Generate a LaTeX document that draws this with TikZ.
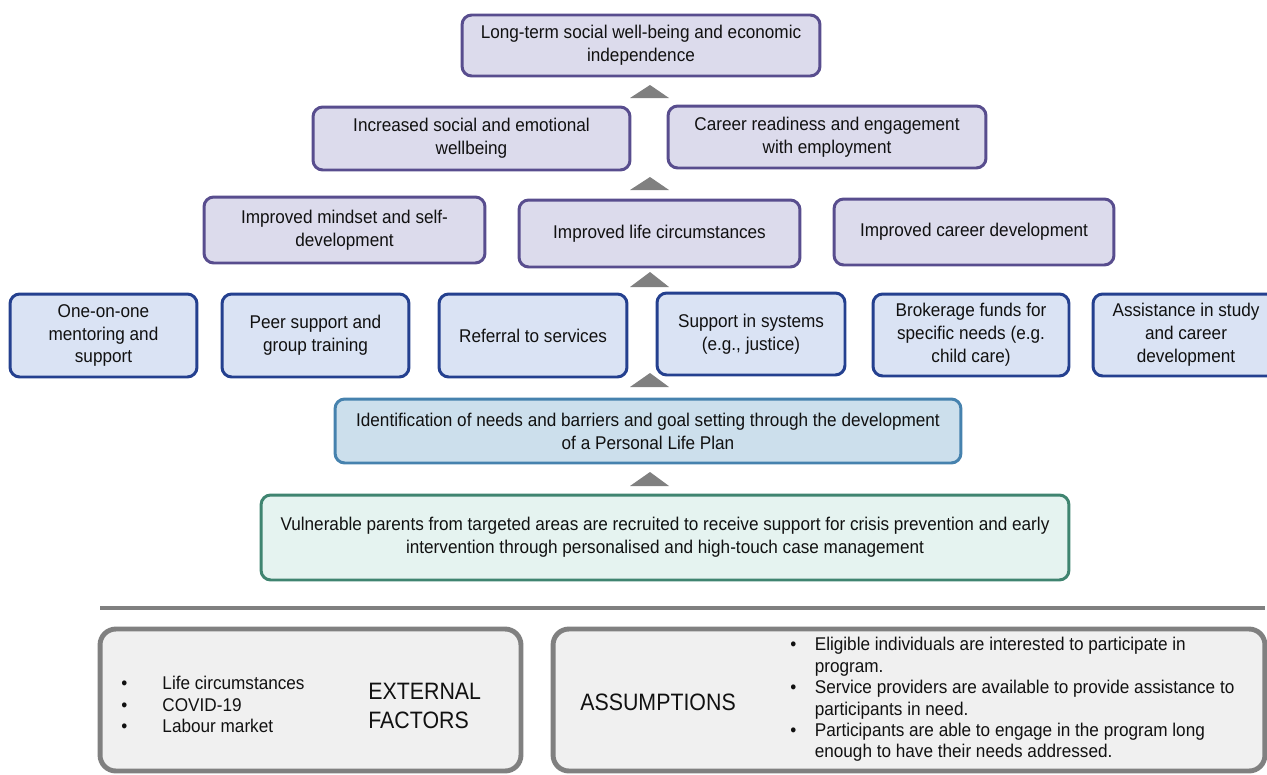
\documentclass[tikz,border=0pt]{standalone}
\usepackage{fontspec}
\setmainfont{Liberation Sans}[FakeStretch=0.93]
\newfontfamily\headfont{Liberation Sans}[FakeStretch=0.9]

\definecolor{purplefill}{HTML}{DCDBEC}
\definecolor{purpleline}{HTML}{584D8E}
\definecolor{bluefill}{HTML}{DAE3F4}
\definecolor{blueline}{HTML}{24408F}
\definecolor{identfill}{HTML}{CCDFEC}
\definecolor{identline}{HTML}{4682AE}
\definecolor{greenfill}{HTML}{E5F3F0}
\definecolor{greenline}{HTML}{3F8470}
\definecolor{greyfill}{HTML}{F0F0F0}
\definecolor{greyline}{HTML}{808080}
\definecolor{textdark}{HTML}{111111}

\tikzset{
  box/.style={rounded corners=5.5pt, line width=1.7pt, align=center, inner sep=0pt,
    text=textdark, font=\fontsize{10.5}{13}\selectfont},
  outcome/.style={box, draw=purpleline, fill=purplefill},
  activity/.style={box, draw=blueline, fill=bluefill},
  plan/.style={box, draw=identline, fill=identfill},
  intake/.style={box, draw=greenline, fill=greenfill},
  context/.style={box, draw=greyline, fill=greyfill, line width=2.8pt, rounded corners=9pt},
  uparrow/.style={fill=greyline},
  plain/.style={inner sep=0pt, text=textdark, align=left}
}

\begin{document}
\begin{tikzpicture}[x=0.02cm, y=-0.02cm]
      \useasboundingbox (0,0) rectangle (1267,774);

      % outcomes
      \node[outcome, minimum width=7.16cm, minimum height=1.22cm] (goal) at (641,45.5)
        {Long-term social well-being and economic\\independence};
      \node[outcome, minimum width=6.34cm, minimum height=1.26cm] (wellbeing) at (471.5,138.5)
        {Increased social and emotional\\wellbeing};
      \node[outcome, minimum width=6.36cm, minimum height=1.24cm] (career) at (827,137)
        {Career readiness and engagement\\with employment};
      \node[outcome, minimum width=5.62cm, minimum height=1.32cm] (mindset) at (344.5,230)
        {Improved mindset and self-\\development};
      \node[outcome, minimum width=5.62cm, minimum height=1.34cm] (life) at (659.5,233.5)
        {Improved life circumstances};
      \node[outcome, minimum width=5.6cm, minimum height=1.32cm] (careerdev) at (974,232)
        {Improved career development};

      % activities
      \node[activity, minimum width=3.74cm, minimum height=1.66cm] (mentor) at (103.5,335.5)
        {One-on-one\\mentoring and\\support};
      \node[activity, minimum width=3.74cm, minimum height=1.66cm] (peer) at (315.5,335.5)
        {Peer support and\\group training};
      \node[activity, minimum width=3.76cm, minimum height=1.66cm] (referral) at (533,335.5)
        {Referral to services};
      \node[activity, minimum width=3.76cm, minimum height=1.64cm] (systems) at (751,334)
        {Support in systems\\(e.g., justice)};
      \node[activity, minimum width=3.92cm, minimum height=1.64cm] (brokerage) at (971,335)
        {Brokerage funds for\\specific needs (e.g.\\child care)};
      \node[activity, minimum width=3.72cm, minimum height=1.64cm] (study) at (1186,335)
        {Assistance in study\\and career\\development};

      % plan and intake
      \node[plan, minimum width=12.52cm, minimum height=1.28cm] (lifeplan) at (648,431)
        {Identification of needs and barriers and goal setting through the development\\of a Personal Life Plan};
      \node[intake, minimum width=16.16cm, minimum height=1.7cm] (parents) at (665,537.5)
        {Vulnerable parents from targeted areas are recruited to receive support for crisis prevention and early\\intervention through personalised and high-touch case management};

      % arrows between levels
      \foreach \y/\h in {98/13, 190/13, 287/15, 387/14, 486/14}
        \fill[uparrow] (630,\y) -- (650,\y-\h) -- (669,\y) -- cycle;

      % separator
      \coordinate (sepL) at (100,608);
      \coordinate (sepR) at (1265,608);
      \draw[greyline, line width=2.8pt] (sepL) -- (sepR);

      % external factors and assumptions
      \node[context, minimum width=8.42cm, minimum height=2.84cm] (external) at (310.5,700) {};
      \node[context, minimum width=14.24cm, minimum height=2.84cm] (assume) at (909,700) {};

      \node[plain, anchor=west, font=\fontsize{10.5}{12.2}\selectfont] (extlist) at (121,707)
        {\begin{tabular}{@{}l@{\hspace{20pt}}l@{}}
          \textbullet & Life circumstances\\
          \textbullet & COVID-19\\
          \textbullet & Labour market
        \end{tabular}};
      \node[plain, anchor=west, font=\headfont\fontsize{13.5}{16.5}\selectfont] (extlabel) at (368,706)
        {EXTERNAL\\FACTORS};
      \node[plain, anchor=west, font=\headfont\fontsize{13.5}{16.5}\selectfont] (asslabel) at (580,702)
        {ASSUMPTIONS};
      \node[plain, anchor=west, font=\fontsize{10.5}{12.2}\selectfont] (asslist) at (790,700)
        {\begin{tabular}{@{}l@{\hspace{10.5pt}}l@{}}
          \textbullet & Eligible individuals are interested to participate in\\
                      & program.\\
          \textbullet & Service providers are available to provide assistance to\\
                      & participants in need.\\
          \textbullet & Participants are able to engage in the program long\\
                      & enough to have their needs addressed.
        \end{tabular}};
    \end{tikzpicture}
\end{document}
